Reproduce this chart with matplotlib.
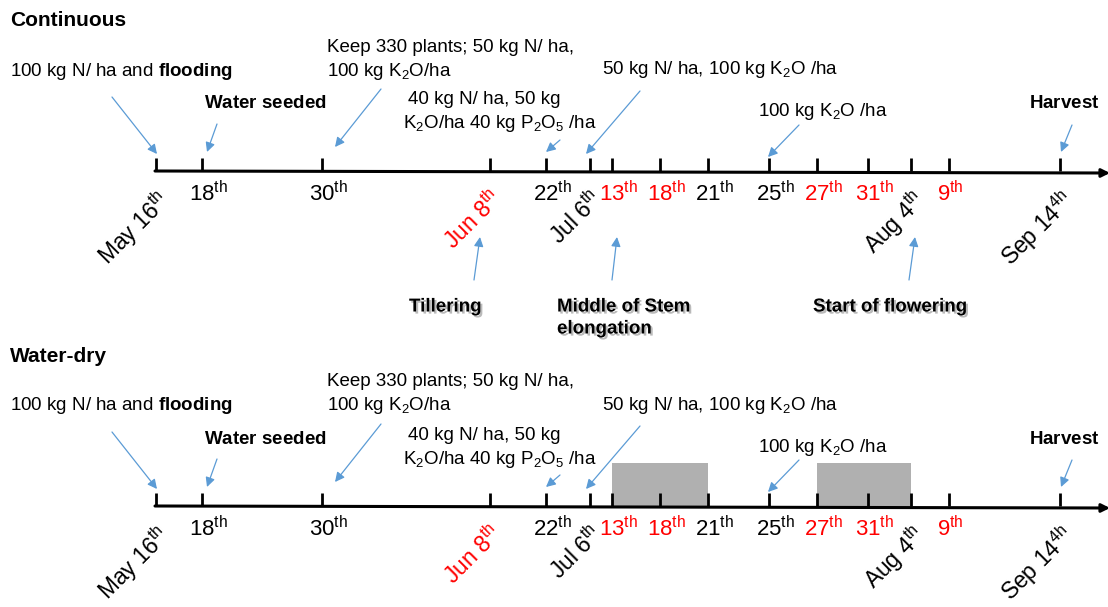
import matplotlib
matplotlib.use("Agg")
import matplotlib.pyplot as plt
import matplotlib.patheffects as pe
from matplotlib.patches import Rectangle

plt.rcParams['font.family'] = ['Liberation Sans', 'DejaVu Sans']
plt.rcParams['mathtext.fontset'] = 'custom'
plt.rcParams['mathtext.rm'] = 'Liberation Sans'
plt.rcParams['mathtext.it'] = 'Liberation Sans:italic'
plt.rcParams['mathtext.bf'] = 'Liberation Sans:bold'

# ---------------- data ----------------
tick_dates = ["May 16", "18", "30", "Jun 8", "22", "Jul 6", "13", "18", "21",
              "25", "27", "31", "Aug 4", "9", "Sep 14"]
tick_sups = ["th"] * 14 + ["4h"]
tick_red = [False, False, False, True, False, False, True, True, False,
            False, True, True, False, True, False]
# schematic timeline position of each date (not proportional to days)
tick_x = [156, 202, 322, 490, 546, 590, 612, 660, 708, 769, 817, 868, 911, 949, 1060]

treatments = ["Continuous", "Water-dry"]
# dry periods for the water-dry treatment: (start tick index, end tick index)
dry_periods = [(6, 8), (10, 12)]

# management events: (tick index, text lines)
events = [
    (0, ["100 kg N/ ha and $\\mathbf{flooding}$"]),
    (1, ["$\\mathbf{Water\\ seeded}$"]),
    (2, ["Keep 330 plants; 50 kg N/ ha,", "100 kg K$_2$O/ha"]),
    (4, ["40 kg N/ ha, 50 kg", "K$_2$O/ha 40 kg P$_2$O$_5$ /ha"]),
    (5, ["50 kg N/ ha, 100 kg K$_2$O /ha"]),
    (9, ["100 kg K$_2$O /ha"]),
    (14, ["$\\mathbf{Harvest}$"]),
]
# growth stages: (tick index, text lines)
stages = [
    (3, ["Tillering"]),
    (6, ["Middle of Stem", "elongation"]),
    (12, ["Start of flowering"]),
]

# ---------------- layout ----------------
BLUE = '#5B9BD5'
FS = 13.5
TFS = 16
RFS = 16.5

# per-event layout relative to axis line: text x, text line y offsets, arrow start, arrow end
event_layout = [
    (10,  [-100],      (112, -74), (157, -17)),
    (204, [-67],       (217, -47), (207, -19)),
    (327, [-124, -100], (381, -82), (335, -24)),
    (408, [-71, -47],  (560, -31), (546, -19)),
    (602, [-101],      (640, -80), (586, -17)),
    (758, [-59],       (799, -46), (768, -14)),
    (1029, [-67],      (1072, -46), (1061, -19)),
]
event_xoff = [0, 0, 0, -5, 0, 0, 0]  # second line shift for 40 kg text
stage_layout = [
    (409, [136], (474, 109), (480, 66)),
    (557, [136, 158], (612, 109), (617, 66)),
    (813, [136], (909, 109), (915, 66)),
]

fig = plt.figure(figsize=(11.08, 6.07), dpi=100)
ax = fig.add_axes([0, 0, 1, 1])
ax.set_xlim(0, 1108)
ax.set_ylim(607, 0)
ax.axis('off')

row_y = [171, 506]

shadow = [pe.SimplePatchShadow(offset=(1.5, -1.5), shadow_rgbFace='0.55', alpha=0.6),
          pe.Normal()]

for r, (name, y0) in enumerate(zip(treatments, row_y)):
    ax.text(10, y0 - 150, name, fontsize=15, fontweight='bold', va='center', ha='left')

    # dry periods
    if r == 1:
        for a, b in dry_periods:
            ax.add_patch(Rectangle((tick_x[a], y0 - 43), tick_x[b] - tick_x[a], 43,
                                   facecolor='#b0b0b0', edgecolor='none', zorder=1))

    # axis line with arrow
    ax.annotate('', xy=(1110, y0 + 2), xytext=(tick_x[0] - 1, y0),
                arrowprops=dict(arrowstyle='-|>', lw=2.2, color='black',
                                mutation_scale=12, shrinkA=0, shrinkB=0),
                annotation_clip=False, zorder=3)
    ax.vlines(tick_x, y0 - 13, y0, color='black', lw=2, zorder=3)

    # tick labels
    for x, d, s, red in zip(tick_x, tick_dates, tick_sups, tick_red):
        col = 'red' if red else 'black'
        label = d + "$^{\\mathrm{" + s + "}}$"
        if ' ' in d:
            ax.text(x - 1, y0 + 15, label, fontsize=RFS, color=col, rotation=45,
                    rotation_mode='anchor', ha='right', va='top', zorder=4)
        else:
            ax.text(x + (6 if len(d) > 1 else 1), y0 + 23, label, fontsize=TFS,
                    color=col, ha='center', va='center', zorder=4)

    # management events
    for (idx, lines), (tx, tys, a0, a1), xo in zip(events, event_layout, event_xoff):
        for k, (line, ty) in enumerate(zip(lines, tys)):
            ax.text(tx + (xo if k == 1 else 0), y0 + ty, line, fontsize=FS,
                    ha='left', va='center')
        ax.annotate('', xy=(a1[0], y0 + a1[1]), xytext=(a0[0], y0 + a0[1]),
                    arrowprops=dict(arrowstyle='-|>', color=BLUE, lw=0.9,
                                    mutation_scale=14, shrinkA=0, shrinkB=0))

    # growth stages (top row only)
    if r == 0:
        for (idx, lines), (tx, tys, a0, a1) in zip(stages, stage_layout):
            for line, ty in zip(lines, tys):
                ax.text(tx, y0 + ty, line, fontsize=FS, fontweight='bold',
                        ha='left', va='center', path_effects=shadow)
            ax.annotate('', xy=(a1[0], y0 + a1[1]), xytext=(a0[0], y0 + a0[1]),
                        arrowprops=dict(arrowstyle='-|>', color=BLUE, lw=0.9,
                                        mutation_scale=14, shrinkA=0, shrinkB=0))

fig.savefig('out.png', dpi=100)
